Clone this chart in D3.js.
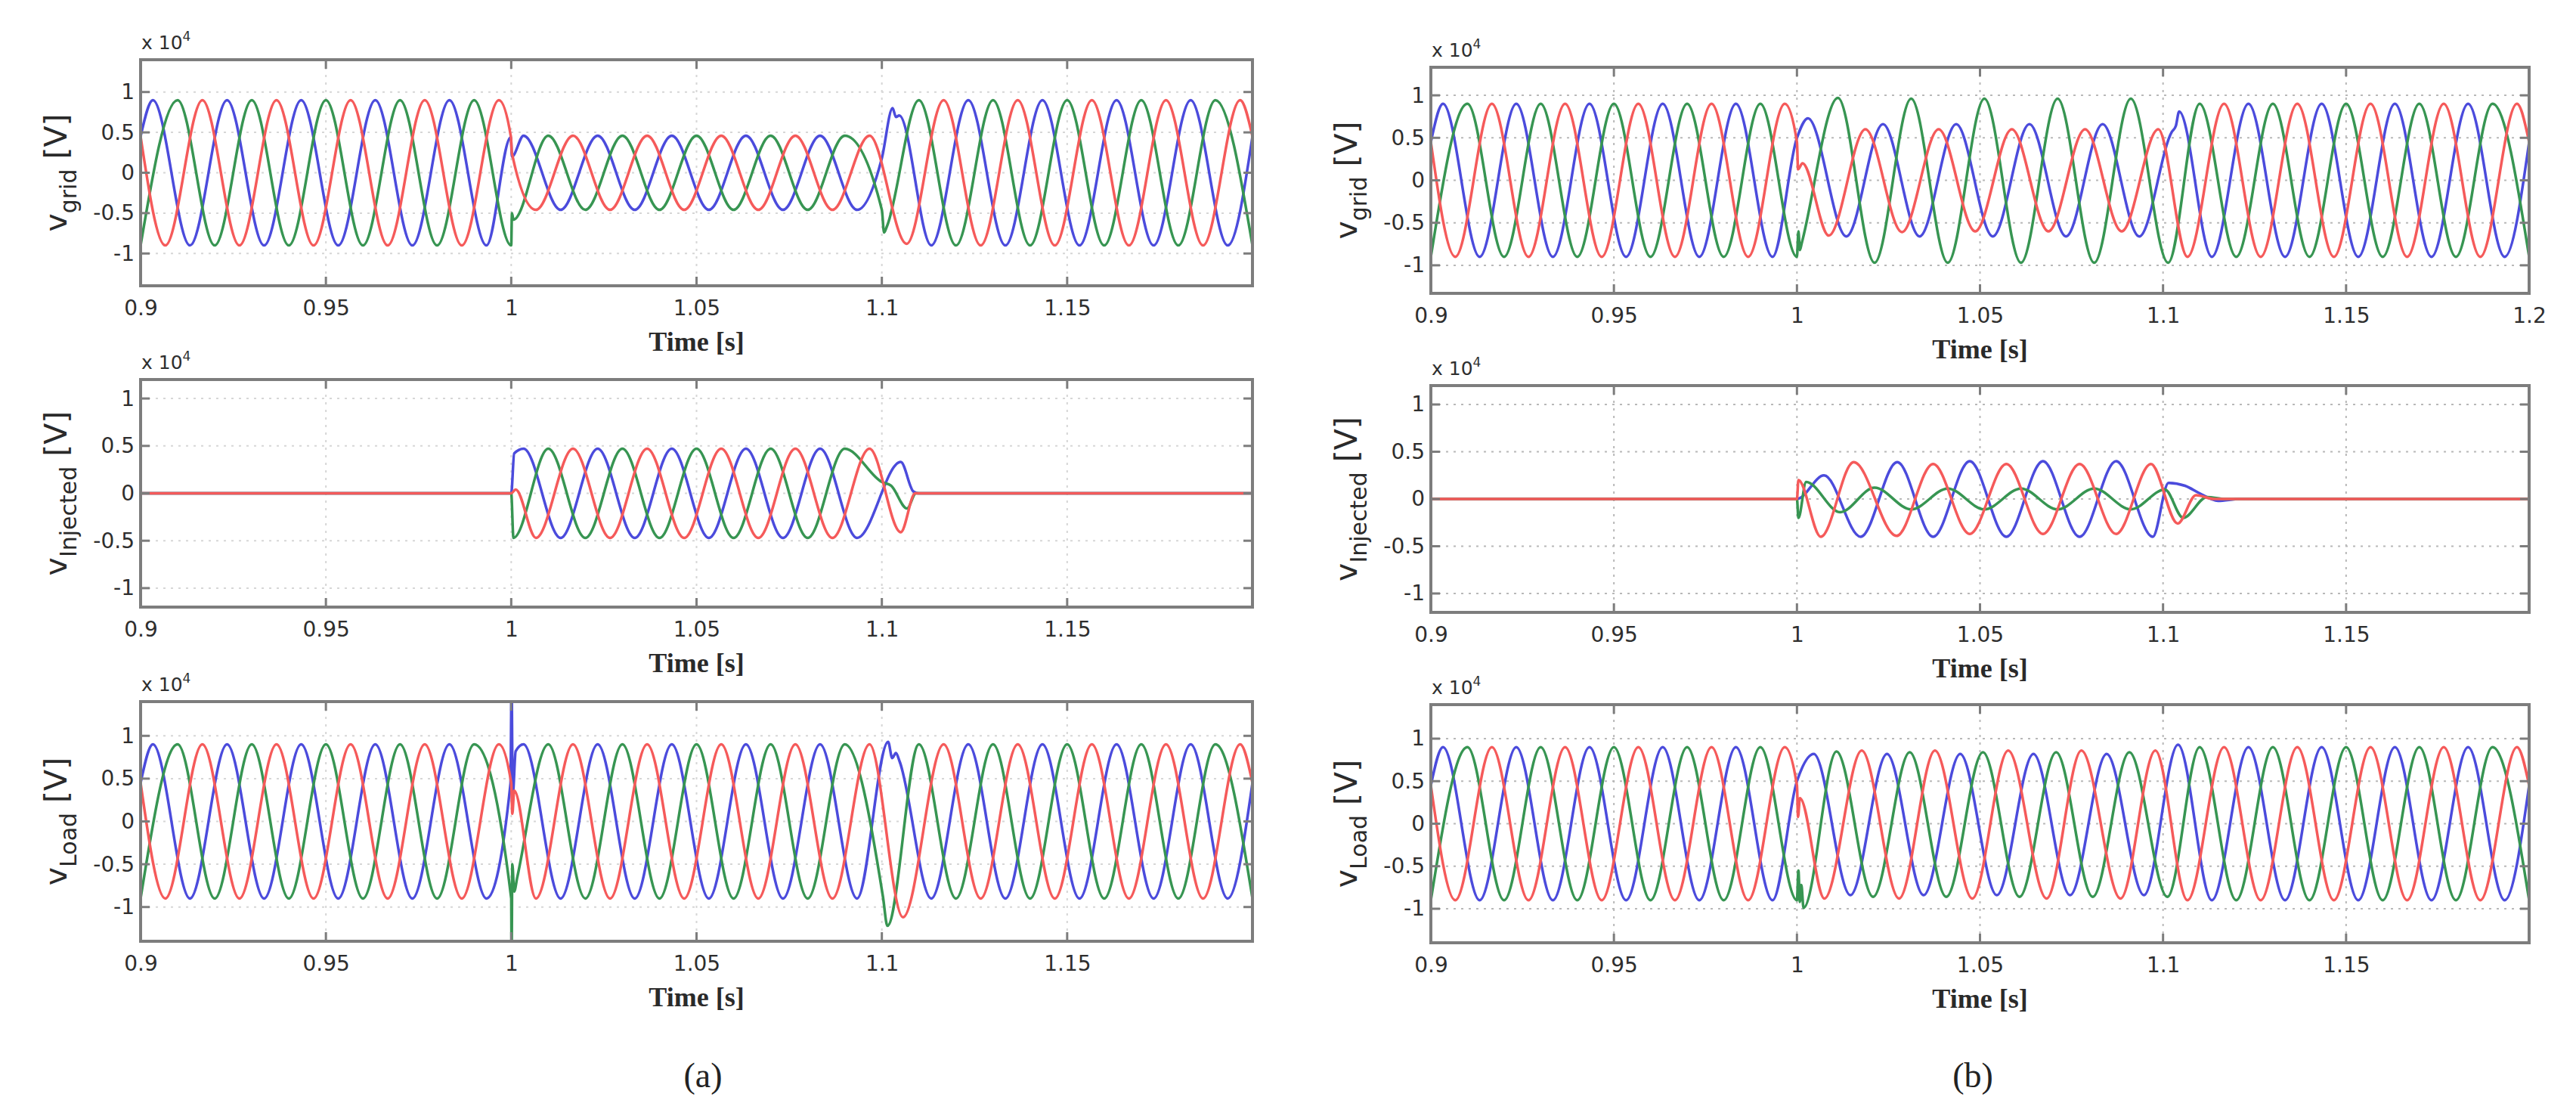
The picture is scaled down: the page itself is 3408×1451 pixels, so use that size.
<!DOCTYPE html>
<html><head><meta charset="utf-8">
<script src="https://cdn.jsdelivr.net/npm/d3@7"></script>
<style>
html,body{margin:0;padding:0;background:#fff;}
svg{display:block;}
</style></head><body>
<svg id="fig" width="3408" height="1451"></svg>
<script>
// ---------- DATA (time in s, voltage in x10^4 V) : waveform extrema / knots ----------
const xDomain = [0.9, 1.2];
const xTicksShort = [0.9, 0.95, 1, 1.05, 1.1, 1.15];
const xTicksLong = [0.9, 0.95, 1, 1.05, 1.1, 1.15, 1.2];
const yTicks = [-1, -0.5, 0, 0.5, 1];
const panelLabels = ["grid", "Injected", "Load"];
const figureLabels = ["(a)", "(b)"];
const yLimitsA = [1.4, 1.2, 1.4];
const yLimitsB = [1.33, 1.2, 1.4];

// steady-state segments (before the sag and after recovery)
const preBlue = [[0.9,0.45],[0.90333,0.9],[0.91333,-0.9],[0.92333,0.9],[0.93333,-0.9],[0.94333,0.9],[0.95333,-0.9],[0.96333,0.9],[0.97333,-0.9],[0.98333,0.9],[0.99333,-0.9]];
const preGreen = [[0.9,-0.9],[0.91,0.9],[0.92,-0.9],[0.93,0.9],[0.94,-0.9],[0.95,0.9],[0.96,-0.9],[0.97,0.9],[0.98,-0.9],[0.99,0.9]];
const preRed = [[0.9,0.45],[0.90667,-0.9],[0.91667,0.9],[0.92667,-0.9],[0.93667,0.9],[0.94667,-0.9],[0.95667,0.9],[0.96667,-0.9],[0.97667,0.9],[0.98667,-0.9],[0.99667,0.9]];
const postBlue = [[1.11333,-0.9],[1.12333,0.9],[1.13333,-0.9],[1.14333,0.9],[1.15333,-0.9],[1.16333,0.9],[1.17333,-0.9],[1.18333,0.9],[1.19333,-0.9],[1.2,0.45]];
const postGreen = [[1.11,0.9],[1.12,-0.9],[1.13,0.9],[1.14,-0.9],[1.15,0.9],[1.16,-0.9],[1.17,0.9],[1.18,-0.9],[1.19,0.9],[1.2,-0.9]];
const postRed = [[1.11667,0.9],[1.12667,-0.9],[1.13667,0.9],[1.14667,-0.9],[1.15667,0.9],[1.16667,-0.9],[1.17667,0.9],[1.18667,-0.9],[1.19667,0.9],[1.2,0.45]];

// (a) grid voltage
const aGridBlue = [...preBlue,[0.9999,0.44],[1.0002,0.2],[1.00333,0.46],[1.01333,-0.46],[1.02333,0.46],[1.03333,-0.46],[1.04333,0.46],[1.05333,-0.46],[1.06333,0.46],[1.07333,-0.46],[1.08333,0.46],[1.09333,-0.46],[1.1,0.18],[1.1029,0.8],[1.1038,0.69],[1.1047,0.71],...postBlue];
const aGridGreen = [...preGreen,[1.0,-0.9],[1.0002,-0.5],[1.0006,-0.58],[1.01,0.46],[1.02,-0.46],[1.03,0.46],[1.04,-0.46],[1.05,0.46],[1.06,-0.46],[1.07,0.46],[1.08,-0.46],[1.09,0.46],[1.1,-0.46],[1.1006,-0.74],[1.1014,-0.66],...postGreen];
const aGridRed = [...preRed,[0.9999,0.45],[1.0002,0.24],[1.00667,-0.46],[1.01667,0.46],[1.02667,-0.46],[1.03667,0.46],[1.04667,-0.46],[1.05667,0.46],[1.06667,-0.46],[1.07667,0.46],[1.08667,-0.46],[1.09667,0.46],[1.10667,-0.88],...postRed];

// (a) injected voltage
const aInjBlue = [[0.9,0],[1.0,0],[1.0008,0.42],[1.00333,0.47],[1.01333,-0.47],[1.02333,0.47],[1.03333,-0.47],[1.04333,0.47],[1.05333,-0.47],[1.06333,0.47],[1.07333,-0.47],[1.08333,0.47],[1.09333,-0.47],[1.1051,0.33],[1.1085,0.02],[1.11,0],[1.2,0]];
const aInjGreen = [[0.9,0],[1.0,0],[1.0006,-0.47],[1.01,0.47],[1.02,-0.47],[1.03,0.47],[1.04,-0.47],[1.05,0.47],[1.06,-0.47],[1.07,0.47],[1.08,-0.47],[1.09,0.47],[1.1,0.12],[1.1025,0.08],[1.1068,-0.16],[1.1092,0],[1.2,0]];
const aInjRed = [[0.9,0],[1.0,0],[1.0012,0.04],[1.00667,-0.47],[1.01667,0.47],[1.02667,-0.47],[1.03667,0.47],[1.04667,-0.47],[1.05667,0.47],[1.06667,-0.47],[1.07667,0.47],[1.08667,-0.47],[1.09667,0.47],[1.1051,-0.41],[1.109,0],[1.2,0]];

// (a) load voltage
const aLoadBlue = [...preBlue,[0.9998,0.44],[1.0001,1.6],[1.0004,0.3],[1.0012,0.82],[1.00333,0.9],[1.01333,-0.9],[1.02333,0.9],[1.03333,-0.9],[1.04333,0.9],[1.05333,-0.9],[1.06333,0.9],[1.07333,-0.9],[1.08333,0.9],[1.09333,-0.9],[1.1017,0.93],[1.1028,0.74],[1.1038,0.8],[1.1048,0.7],...postBlue];
const aLoadGreen = [...preGreen,[1.0,-0.9],[1.0001,-1.6],[1.0003,-0.5],[1.0008,-0.82],[1.0016,-0.66],[1.01,0.9],[1.02,-0.9],[1.03,0.9],[1.04,-0.9],[1.05,0.9],[1.06,-0.9],[1.07,0.9],[1.08,-0.9],[1.09,0.9],[1.1003,-0.88],[1.1015,-1.22],...postGreen];
const aLoadRed = [...preRed,[1.0,0.45],[1.0003,0.09],[1.0008,0.36],[1.00667,-0.9],[1.01667,0.9],[1.02667,-0.9],[1.03667,0.9],[1.04667,-0.9],[1.05667,0.9],[1.06667,-0.9],[1.07667,0.9],[1.08667,-0.9],[1.09667,0.9],[1.1057,-1.12],...postRed];

// (b) grid voltage
const bGridBlue = [...preBlue,[1.0,0.5],[1.003,0.73],[1.0135,-0.66],[1.0235,0.66],[1.0335,-0.66],[1.0435,0.66],[1.0535,-0.66],[1.0635,0.66],[1.0735,-0.66],[1.0835,0.66],[1.0935,-0.66],[1.1024,0.57],[1.1035,0.64],[1.1044,0.81],...postBlue];
const bGridGreen = [...preGreen,[1.0,-0.9],[1.0004,-0.6],[1.0008,-0.82],[1.0013,-0.74],[1.0112,0.97],[1.0212,-0.97],[1.0312,0.96],[1.0412,-0.97],[1.0512,0.96],[1.0612,-0.97],[1.0712,0.96],[1.0812,-0.97],[1.0912,0.96],[1.1014,-0.97],...postGreen];
const bGridRed = [...preRed,[1.0,0.45],[1.0003,0.13],[1.0015,0.2],[1.0087,-0.65],[1.0187,0.6],[1.0287,-0.61],[1.0387,0.6],[1.0487,-0.6],[1.0587,0.6],[1.0687,-0.6],[1.0787,0.6],[1.0887,-0.6],[1.0987,0.6],[1.10667,-0.9],...postRed];

// (b) injected voltage
const bInjBlue = [[0.9,0],[1.0,0],[1.0074,0.25],[1.0174,-0.4],[1.0274,0.39],[1.0372,-0.4],[1.0472,0.4],[1.0572,-0.4],[1.0672,0.4],[1.0772,-0.4],[1.0872,0.4],[1.0972,-0.4],[1.1015,0.17],[1.106,0.14],[1.11,0.06],[1.115,-0.02],[1.121,0],[1.2,0]];
const bInjGreen = [[0.9,0],[1.0,0],[1.0004,-0.2],[1.0025,0.18],[1.0118,-0.14],[1.0212,0.12],[1.0312,-0.11],[1.0412,0.11],[1.0512,-0.11],[1.0612,0.11],[1.0712,-0.11],[1.0812,0.11],[1.0912,-0.11],[1.1005,0.1],[1.1055,-0.2],[1.112,0.02],[1.117,0],[1.2,0]];
const bInjRed = [[0.9,0],[1.0,0],[1.0004,0.2],[1.0065,-0.4],[1.0155,0.39],[1.0272,-0.39],[1.0372,0.37],[1.0472,-0.37],[1.0572,0.37],[1.0672,-0.37],[1.0772,0.37],[1.0872,-0.37],[1.0967,0.37],[1.104,-0.26],[1.109,0.04],[1.114,0],[1.2,0]];

// (b) load voltage
const bLoadBlue = [...preBlue,[1.0,0.5],[1.0046,0.82],[1.0146,-0.84],[1.0246,0.82],[1.0346,-0.84],[1.0446,0.82],[1.0546,-0.84],[1.0646,0.82],[1.0746,-0.84],[1.0846,0.82],[1.0948,-0.84],[1.1041,0.93],...postBlue];
const bLoadGreen = [...preGreen,[1.0,-0.9],[1.0004,-0.55],[1.0008,-0.92],[1.0012,-0.72],[1.0018,-0.99],[1.0108,0.85],[1.0208,-0.86],[1.0308,0.84],[1.0408,-0.86],[1.0508,0.84],[1.0608,-0.86],[1.0708,0.84],[1.0808,-0.86],[1.0908,0.84],[1.1012,-0.86],...postGreen];
const bLoadRed = [...preRed,[1.0,0.45],[1.0003,0.08],[1.0008,0.3],[1.0075,-0.88],[1.0177,0.86],[1.0279,-0.88],[1.0377,0.86],[1.0479,-0.88],[1.0577,0.86],[1.0682,-0.88],[1.0777,0.86],[1.0884,-0.88],[1.0979,0.86],[1.10667,-0.9],...postRed];

// ---------- STYLE / LAYOUT ----------
const colors = ["#4b4bdc", "#379552", "#f55a5a"]; // blue, green, red (drawn in this order)
const layout = {
  a: {x0: 186, x1: 1657, rows: [[79, 378], [502, 803], [928, 1245]], grid: "#d6d6d6", labelX: 930},
  b: {x0: 1893, x1: 3346, rows: [[89, 388], [510, 810], [932, 1247]], grid: "#b8b8b8", labelX: 2610}
};
const panels = [
  {col: "a", row: 0, lim: yLimitsA[0], ticks: xTicksShort, series: [aGridBlue, aGridGreen, aGridRed]},
  {col: "a", row: 1, lim: yLimitsA[1], ticks: xTicksShort, series: [aInjBlue, aInjGreen, aInjRed]},
  {col: "a", row: 2, lim: yLimitsA[2], ticks: xTicksShort, series: [aLoadBlue, aLoadGreen, aLoadRed]},
  {col: "b", row: 0, lim: yLimitsB[0], ticks: xTicksLong, series: [bGridBlue, bGridGreen, bGridRed]},
  {col: "b", row: 1, lim: yLimitsB[1], ticks: xTicksShort, series: [bInjBlue, bInjGreen, bInjRed]},
  {col: "b", row: 2, lim: yLimitsB[2], ticks: xTicksShort, series: [bLoadBlue, bLoadGreen, bLoadRed]}
];

const svg = d3.select("#fig");
const defs = svg.append("defs");
const sans = "'DejaVu Sans', 'Liberation Sans', Arial, sans-serif";
const serif = "'Liberation Serif', 'Times New Roman', serif";
const frameColor = "#7d7d7d";
const textColor = "#2e2e2e";

panels.forEach((p, i) => {
  const L = layout[p.col];
  const [y0, y1] = L.rows[p.row];
  const x = d3.scaleLinear().domain(xDomain).range([L.x0, L.x1]);
  const y = d3.scaleLinear().domain([-p.lim, p.lim]).range([y1, y0]);
  const g = svg.append("g");
  const cid = "clip" + i;
  defs.append("clipPath").attr("id", cid).append("rect")
    .attr("x", L.x0).attr("y", y0).attr("width", L.x1 - L.x0).attr("height", y1 - y0);

  // grid
  const gridTicksX = p.ticks.filter(t => t > xDomain[0] && t < xDomain[1]);
  g.selectAll(".gx").data(gridTicksX).join("line")
    .attr("x1", d => x(d)).attr("x2", d => x(d)).attr("y1", y0).attr("y2", y1)
    .attr("stroke", L.grid).attr("stroke-width", 2).attr("stroke-dasharray", "3,7");
  g.selectAll(".gy").data(yTicks).join("line")
    .attr("x1", L.x0).attr("x2", L.x1).attr("y1", d => y(d)).attr("y2", d => y(d))
    .attr("stroke", L.grid).attr("stroke-width", 2).attr("stroke-dasharray", "3,7");

  // traces
  const line = d3.line().x(d => x(d[0])).y(d => y(d[1])).curve(d3.curveMonotoneX);
  p.series.forEach((s, k) => {
    g.append("path").attr("d", line(s)).attr("clip-path", `url(#${cid})`)
      .attr("fill", "none").attr("stroke", colors[k]).attr("stroke-width", 3.5)
      .attr("stroke-linejoin", "round").attr("stroke-linecap", "round");
  });

  // tick marks
  g.selectAll(".tb").data(gridTicksX).join("line")
    .attr("x1", d => x(d)).attr("x2", d => x(d)).attr("y1", y1).attr("y2", y1 - 12)
    .attr("stroke", frameColor).attr("stroke-width", 3);
  g.selectAll(".tt").data(gridTicksX).join("line")
    .attr("x1", d => x(d)).attr("x2", d => x(d)).attr("y1", y0).attr("y2", y0 + 12)
    .attr("stroke", frameColor).attr("stroke-width", 3);
  g.selectAll(".tl").data(yTicks).join("line")
    .attr("x1", L.x0).attr("x2", L.x0 + 12).attr("y1", d => y(d)).attr("y2", d => y(d))
    .attr("stroke", frameColor).attr("stroke-width", 3);
  g.selectAll(".tr").data(yTicks).join("line")
    .attr("x1", L.x1).attr("x2", L.x1 - 12).attr("y1", d => y(d)).attr("y2", d => y(d))
    .attr("stroke", frameColor).attr("stroke-width", 3);

  // frame
  g.append("rect").attr("x", L.x0).attr("y", y0).attr("width", L.x1 - L.x0).attr("height", y1 - y0)
    .attr("fill", "none").attr("stroke", frameColor).attr("stroke-width", 4);

  // x tick labels
  const ax = g.append("g").attr("transform", `translate(0,${y1})`)
    .call(d3.axisBottom(x).tickValues(p.ticks).tickSize(0).tickPadding(19).tickFormat(d => String(d)));
  ax.select(".domain").remove();
  ax.selectAll("text").attr("font-family", sans).attr("font-size", 28).attr("fill", textColor);

  // y tick labels
  const ay = g.append("g").attr("transform", `translate(${L.x0},0)`)
    .call(d3.axisLeft(y).tickValues(yTicks).tickSize(0).tickPadding(8).tickFormat(d => String(d)));
  ay.select(".domain").remove();
  ay.selectAll("text").attr("font-family", sans).attr("font-size", 28).attr("fill", textColor);

  // exponent label
  const ex = g.append("text").attr("x", L.x0 + 1).attr("y", y0 - 14)
    .attr("font-family", sans).attr("font-size", 25).attr("fill", textColor);
  ex.append("tspan").text("x 10");
  ex.append("tspan").attr("dy", -11).attr("font-size", 17).text("4");

  // y axis label
  const yl = g.append("text")
    .attr("transform", `translate(${L.x0 - 98},${(y0 + y1) / 2}) rotate(-90)`)
    .attr("text-anchor", "middle").attr("font-family", sans).attr("font-size", 41).attr("fill", "#2a2a2a");
  yl.append("tspan").text("v");
  yl.append("tspan").attr("dy", 13).attr("font-size", 30).text(panelLabels[p.row]);
  yl.append("tspan").attr("dy", -13).text(" [V]");

  // x axis title
  g.append("text").attr("x", (L.x0 + L.x1) / 2).attr("y", y1 + 86)
    .attr("text-anchor", "middle").attr("font-family", serif).attr("font-weight", "bold")
    .attr("font-size", 36).attr("fill", "#2a2a2a").text("Time [s]");
});

// sub-figure captions
svg.selectAll(".cap").data(["a", "b"]).join("text")
  .attr("x", d => layout[d].labelX).attr("y", 1438).attr("text-anchor", "middle")
  .attr("font-family", serif).attr("font-size", 46).attr("fill", "#222")
  .text((d, i) => figureLabels[i]);
</script>
</body></html>
